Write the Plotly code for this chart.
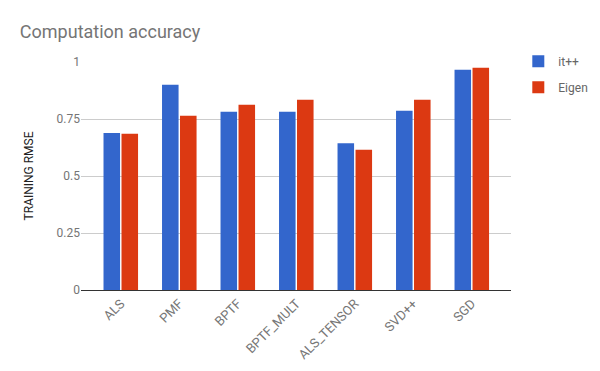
import plotly.graph_objects as go

categories = ["ALS", "PMF", "BPTF", "BPTF_MULT", "ALS_TENSOR", "SVD++", "SGD"]
itpp = [0.689, 0.900, 0.782, 0.782, 0.644, 0.786, 0.966]
eigen = [0.685, 0.764, 0.812, 0.834, 0.615, 0.834, 0.975]
yticks = [0, 0.25, 0.5, 0.75, 1]
ytick_labels = ["0", "0.25", "0.5", "0.75", "1"]

fig = go.Figure()
fig.add_trace(go.Bar(name="it++", x=categories, y=itpp, marker_color="#3366cc",
                     marker_line_width=0, legendgroup="a"))
fig.add_trace(go.Bar(name="Eigen", x=categories, y=eigen, marker_color="#dc3912",
                     marker_line_width=0, legendgroup="b"))

# page body has an 8px default margin, so the figure is sized to compensate
fig.update_layout(
    width=592, height=363,
    margin=dict(l=73, r=89, t=54, b=81, autoexpand=False),
    paper_bgcolor="white", plot_bgcolor="white",
    font=dict(family="Roboto, Arial, sans-serif", color="#444"),
    title=dict(text="Computation accuracy", x=0.020, xanchor="left", y=0.934, yanchor="middle",
               font=dict(size=18, color="#757575")),
    barmode="group", bargap=0.385, bargroupgap=0.08,
    legend=dict(xref="container", yref="container", x=0.862, y=0.893, xanchor="left", yanchor="top",
                font=dict(size=12, color="#666"), tracegroupgap=7, itemwidth=30),
    showlegend=True,
)
fig.update_xaxes(tickangle=-45, tickfont=dict(size=13, color="#777"), showgrid=False,
                 range=[-0.68, 6.67],
                 showline=True, linecolor="#333", linewidth=1, ticks="", automargin=False)
fig.update_yaxes(range=[0, 1.0], tickvals=yticks, ticktext=ytick_labels, showgrid=True,
                 gridcolor="#cccccc", zeroline=True, zerolinecolor="#333", zerolinewidth=1,
                 tickfont=dict(size=12, color="#757575"), automargin=False,
                 title=dict(text="TRAINING RMSE", font=dict(size=12, color="#222"), standoff=20))
fig.write_html("out.html")
